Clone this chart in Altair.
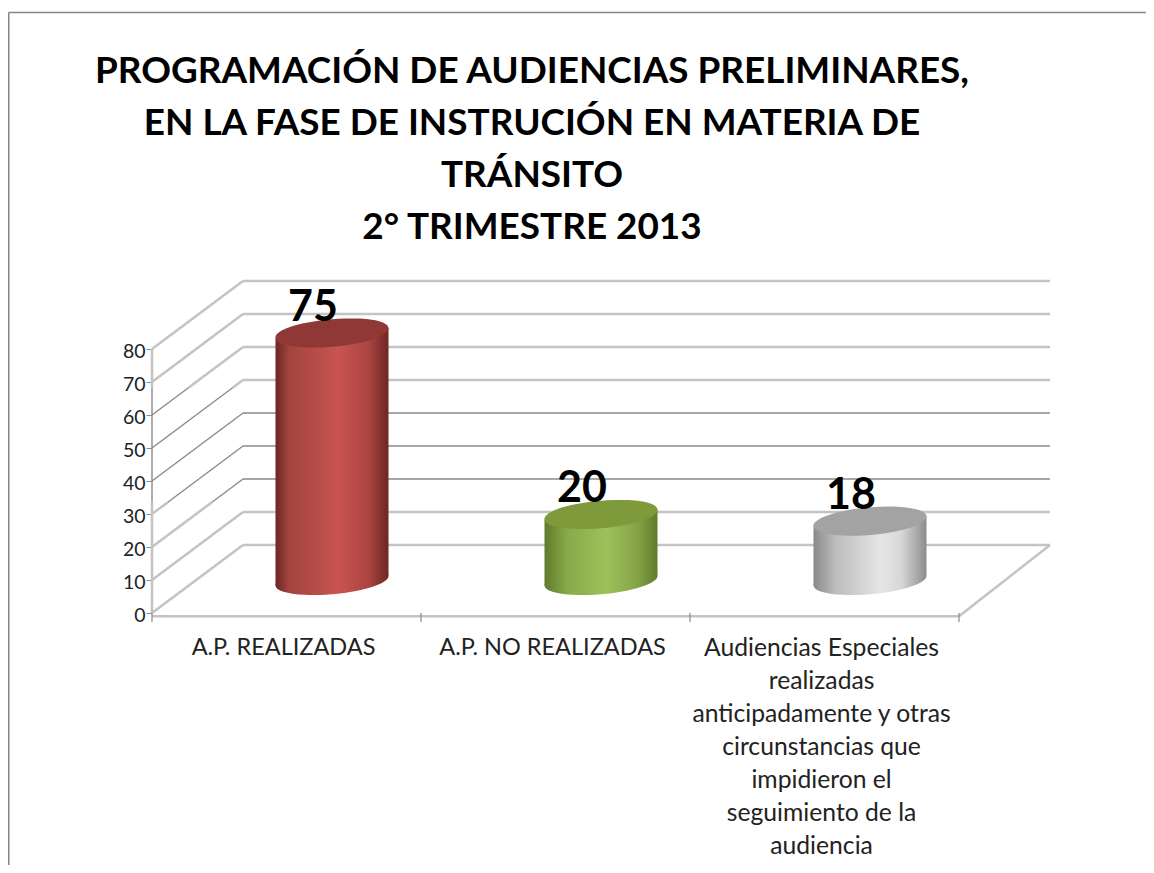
import altair as alt
import pandas as pd

# ---- chart values ----
categories = ["A.P. REALIZADAS", "A.P. NO REALIZADAS",
              "Audiencias Especiales|realizadas|anticipadamente y otras|circunstancias que|impidieron el|seguimiento de la|audiencia"]
category_font_sizes = [23.5, 23.5, 24.7]
values = [75, 20, 18]
y_ticks = [0, 10, 20, 30, 40, 50, 60, 70, 80]
title_lines = ["PROGRAMACIÓN DE AUDIENCIAS PRELIMINARES,",
               "EN LA FASE DE INSTRUCIÓN EN MATERIA DE",
               "TRÁNSITO",
               "2° TRIMESTRE 2013"]
body_stops = [
    [("#6a2725", 0), ("#a4433f", .12), ("#b54c48", .35), ("#ca544f", .55), ("#ab4542", .82), ("#6f2624", 1)],
    [("#5f7a2b", 0), ("#8aa94a", .2), ("#9ec05a", .55), ("#86a447", .82), ("#607b2c", 1)],
    [("#8a8a8a", 0), ("#bdbdbd", .2), ("#e6e6e6", .6), ("#d6d6d6", .78), ("#8c8c8c", 1)],
]
top_colors = ["#8f3836", "#7e9a3b", "#a3a3a3"]

# ---- layout ----
W, H = 1138, 857
PX_CAT, PX_VAL = 269.0, 3.3         # pixels per category / per value unit
X0, Y0 = 152 - 8, 613 - 8           # position of the axis origin inside the canvas
DEPTH_X, DEPTH_Y = 91 / PX_CAT, 68 / PX_VAL
BODY_HALF = 56.5 / PX_CAT
TILT = 5 / PX_VAL
BASE = DEPTH_Y / 2 - 0.45
x_scale = alt.Scale(domain=[-X0 / PX_CAT, (W - X0) / PX_CAT], range=[0, W], zero=False, nice=False)
y_scale = alt.Scale(domain=[(Y0 - H) / PX_VAL, Y0 / PX_VAL], range=[H, 0], zero=False, nice=False)

LIGHT = ("#c4c4c4", 2.6)
DARK = ("#8a8a8a", 1.4)
BAND_HI, BAND_LO = 68.4, 33.5

segs = []
def seg(x0, y0, x1, y1):
    """Add a wall or floor line, split where the picture changes line style."""
    cuts = [0.0, 1.0]
    if y1 != y0:
        for b in (BAND_LO, BAND_HI):
            t = (b - y0) / (y1 - y0)
            if 0 < t < 1:
                cuts.append(t)
    cuts.sort()
    for a, b in zip(cuts, cuts[1:]):
        m = y0 + (y1 - y0) * (a + b) / 2
        c, w = DARK if BAND_LO < m < BAND_HI else LIGHT
        segs.append(dict(x=x0 + (x1 - x0) * a, y=y0 + (y1 - y0) * a,
                         x2=x0 + (x1 - x0) * b, y2=y0 + (y1 - y0) * b, c=c, w=w))

for v in y_ticks:
    seg(0, v, DEPTH_X, v + DEPTH_Y)
    seg(DEPTH_X, v + DEPTH_Y, 3 + DEPTH_X, v + DEPTH_Y)
seg(0, 0, 0, 80)
seg(0, -1, 3, -1)
seg(3, -1, 3 + DEPTH_X, DEPTH_Y)
for i in range(4):
    segs.append(dict(x=i, y=0, x2=i, y2=-2.7, c="#8a8a8a", w=1.2))
# outer frame
fx, fy = (0.5 - X0) / PX_CAT, (Y0 - 4.5) / PX_VAL
fb = (Y0 - H) / PX_VAL
fr = (W - X0) / PX_CAT
segs.append(dict(x=fx, y=fy, x2=fr, y2=fy, c="#868686", w=1.5))
segs.append(dict(x=fx, y=fy, x2=fx, y2=fb, c="#868686", w=2))
seg_df = pd.DataFrame(segs)

y_axis = alt.Axis(values=y_ticks, offset=-X0, domain=False, grid=False, ticks=True, tickSize=6,
                  tickColor="#8a8a8a", labelFont="Lato", labelFontSize=19.5, labelColor="#222222",
                  labelPadding=1, labelOffset=2)
X = lambda f: alt.X(f, type="quantitative", scale=x_scale, axis=None, title=None)
Y = lambda f: alt.Y(f, type="quantitative", scale=y_scale, axis=y_axis, title=None)

grid = alt.Chart(seg_df).mark_rule().encode(
    x=X("x"), x2="x2", y=Y("y"), y2="y2",
    color=alt.Color("c:N", scale=None),
    strokeWidth=alt.StrokeWidth("w:Q", scale=None),
)

ELLIPSE = "M-1,0.088 A1.004,0.24,-5,1,1,1,-0.088 A1.004,0.24,-5,1,1,-1,0.088 Z"
SIZE = (2 * 56.5) ** 2
layers = [grid]
for i, v in enumerate(values):
    cx = i + 0.5 + DEPTH_X / 2
    grad = alt.LinearGradient(gradient="linear", x1=0, x2=1, y1=0, y2=0,
                              stops=[alt.GradientStop(color=c, offset=o) for c, o in body_stops[i]])
    body = pd.DataFrame({"x": [cx - BODY_HALF, cx + BODY_HALF],
                         "top": [v + BASE - TILT, v + BASE + TILT],
                         "bot": [BASE - TILT, BASE + TILT]})
    layers.append(alt.Chart(pd.DataFrame({"x": [cx], "y": [BASE]})).mark_point(
        shape=ELLIPSE, size=SIZE, filled=True, fill=grad, opacity=1, strokeOpacity=0).encode(x=X("x"), y=Y("y")))
    layers.append(alt.Chart(body).mark_area(fill=grad, opacity=1).encode(x=X("x"), y=Y("top"), y2="bot"))
    layers.append(alt.Chart(pd.DataFrame({"x": [cx], "y": [v + BASE]})).mark_point(
        shape=ELLIPSE, size=SIZE, filled=True, fill=top_colors[i], opacity=1, strokeOpacity=0).encode(x=X("x"), y=Y("y")))

bars = pd.DataFrame({"x": [i + 0.5 + DEPTH_X / 2 for i in range(3)],
                     "y": [v + BASE for v in values], "v": values})
data_labels = alt.Chart(bars).mark_text(font="Lato", fontWeight="bold", fontSize=43, color="#000000",
                                        baseline="bottom", dx=-19, dy=-3).encode(
    x=X("x"), y=Y("y"), text="v:Q")

cat_df = pd.DataFrame({"x": [i + 0.5 - 0.011 for i in range(3)], "t": categories, "s": category_font_sizes})
cat_labels = alt.Chart(cat_df).mark_text(font="Lato", color="#222222", baseline="top",
                                         align="center", lineBreak="|", lineHeight=33).encode(
    x=X("x"), y=alt.value(628), text="t:N", size=alt.Size("s:Q", scale=None))

chart = alt.layer(*layers, data_labels, cat_labels).properties(
    width=W, height=H, padding=0, autosize=alt.AutoSizeParams(type="none"),
    background="#ffffff",
    title=alt.TitleParams(text=title_lines, font="Lato", fontSize=36.9, fontWeight="bold", color="#000000",
                          anchor="middle", lineHeight=52, dx=-45, dy=243),
).configure_view(stroke=None)

chart.save("out.html", embed_options={"renderer": "svg", "actions": False})
